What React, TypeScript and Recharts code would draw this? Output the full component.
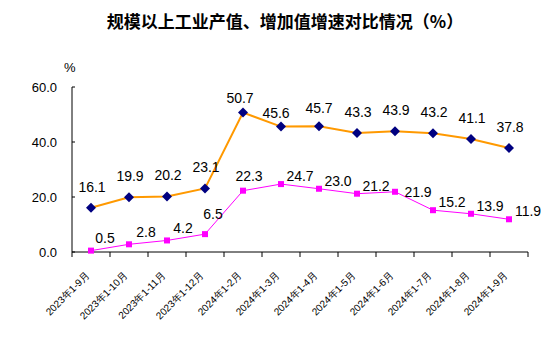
import { LineChart, Line, XAxis, YAxis, LabelList } from "recharts";

const categories = [
  "2023年1-9月",
  "2023年1-10月",
  "2023年1-11月",
  "2023年1-12月",
  "2024年1-2月",
  "2024年1-3月",
  "2024年1-4月",
  "2024年1-5月",
  "2024年1-6月",
  "2024年1-7月",
  "2024年1-8月",
  "2024年1-9月",
];
const outputGrowth = [16.1, 19.9, 20.2, 23.1, 50.7, 45.6, 45.7, 43.3, 43.9, 43.2, 41.1, 37.8];
const valueAddedGrowth = [0.5, 2.8, 4.2, 6.5, 22.3, 24.7, 23.0, 21.2, 21.9, 15.2, 13.9, 11.9];
const yTicks = [0, 20, 40, 60];

const data = categories.map((name, i) => ({
  name,
  output: outputGrowth[i],
  added: valueAddedGrowth[i],
}));

const FONT = "'Liberation Sans', Arial, sans-serif";
const BAND = 38;

// label placement tweaks (dx, dy of the text baseline from the point)
const topNudge: Record<number, [number, number]> = {
  4: [-3, -10],
  5: [-5, -9],
  6: [0, -13],
};
const sideNudge: Record<number, [number, number]> = {
  0: [14, -8],
  1: [17, -7],
  2: [16, -7],
  3: [8, -15],
  4: [6, -10],
  8: [23, 5],
};

function Diamond(props: any) {
  const { cx, cy } = props;
  if (cx == null || cy == null) return null;
  const r = 5;
  return (
    <path
      d={`M${cx},${cy - r} L${cx + r},${cy} L${cx},${cy + r} L${cx - r},${cy} Z`}
      fill="#000080"
    />
  );
}

function Square(props: any) {
  const { cx, cy } = props;
  if (cx == null || cy == null) return null;
  return <rect x={cx - 3} y={cy - 3} width={6} height={6} fill="#FF00FF" />;
}

function XTick(props: any) {
  const { x, y, payload, index } = props;
  const top = y - 8;
  const tx = x - 1;
  const ty = top + 24;
  return (
    <g>
      {index === 0 && <line x1={x - BAND / 2} y1={top} x2={x - BAND / 2} y2={top + 5} stroke="#000" />}
      <line x1={x + BAND / 2} y1={top} x2={x + BAND / 2} y2={top + 5} stroke="#000" />
      <text
        x={tx}
        y={ty}
        transform={`rotate(-45 ${tx} ${ty})`}
        textAnchor="end"
        fontSize={10}
        fontFamily={FONT}
        fill="#000"
      >
        {payload.value}
      </text>
    </g>
  );
}

function YTick(props: any) {
  const { x, y, payload } = props;
  const axisX = x + 8;
  return (
    <g>
      <line x1={axisX} y1={y} x2={axisX + 3} y2={y} stroke="#000" />
      <text x={axisX - 15} y={y + 5} textAnchor="end" fontSize={13} fontFamily={FONT} fill="#000">
        {Number(payload.value).toFixed(1)}
      </text>
    </g>
  );
}

function TopLabel(props: any) {
  const { x, y, value, index } = props;
  const [dx, dy] = topNudge[index] ?? [1, -16];
  return (
    <text x={x + dx} y={y + dy} textAnchor="middle" fontSize={14} fontFamily={FONT} fill="#000">
      {Number(value).toFixed(1)}
    </text>
  );
}

function SideLabel(props: any) {
  const { x, y, value, index } = props;
  const [dx, dy] = sideNudge[index] ?? [19, -3];
  return (
    <text x={x + dx} y={y + dy} textAnchor="middle" fontSize={14} fontFamily={FONT} fill="#000">
      {Number(value).toFixed(1)}
    </text>
  );
}

export default function App() {
  return (
    <div style={{ position: "absolute", left: 0, top: 0, width: 550, height: 346, background: "#fff" }}>
      <div
        style={{
          position: "absolute",
          top: 8,
          left: 0,
          width: 550,
          textAlign: "center",
          fontFamily: "'Noto Sans CJK SC', sans-serif",
          fontSize: 17,
          fontWeight: "bold",
          color: "#000",
          marginLeft: 10,
        }}
      >
        规模以上工业产值、增加值增速对比情况（%）
      </div>
      <div
        style={{
          position: "absolute",
          top: 60,
          left: 64,
          fontFamily: FONT,
          fontSize: 13,
        }}
      >
        %
      </div>
      <LineChart
        width={550}
        height={346}
        data={data}
        margin={{ top: 87, right: 22, bottom: 0, left: 0 }}
      >
        <XAxis
          dataKey="name"
          interval={0}
          tickLine={false}
          axisLine={{ stroke: "#000" }}
          tick={<XTick />}
          height={94}
          padding={{ left: BAND / 2, right: BAND / 2 }}
        />
        <YAxis
          domain={[0, 60]}
          ticks={yTicks}
          tickLine={false}
          axisLine={{ stroke: "#000" }}
          tick={<YTick />}
          width={72}
        />
        <Line
          dataKey="output"
          stroke="#FF9900"
          strokeWidth={2}
          dot={<Diamond />}
          isAnimationActive={false}
        >
          <LabelList dataKey="output" content={<TopLabel />} />
        </Line>
        <Line
          dataKey="added"
          stroke="#FF00FF"
          strokeWidth={1}
          dot={<Square />}
          isAnimationActive={false}
        >
          <LabelList dataKey="added" content={<SideLabel />} />
        </Line>
      </LineChart>
    </div>
  );
}
